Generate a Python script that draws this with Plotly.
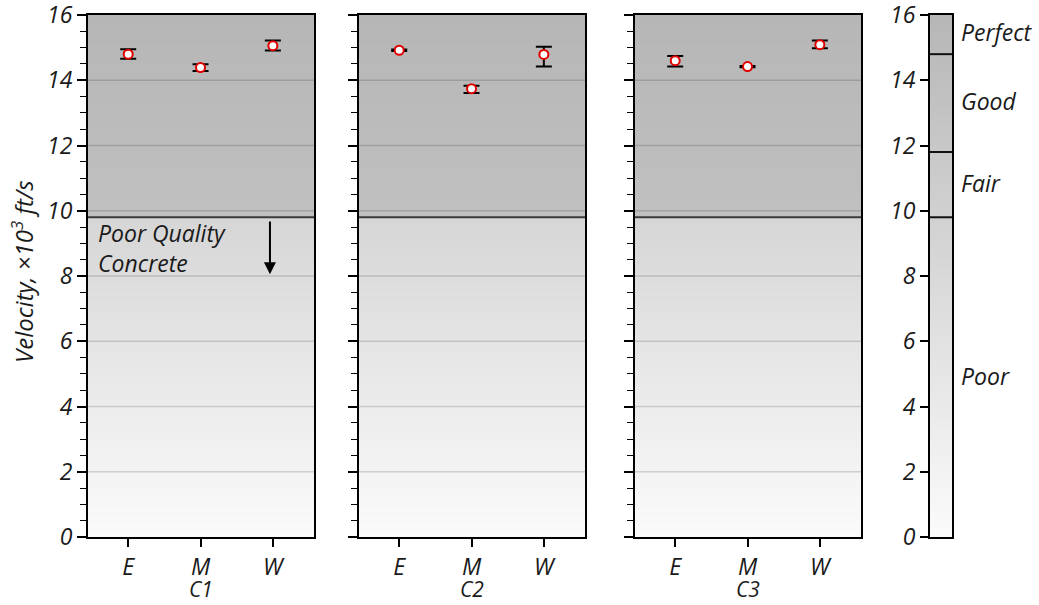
import plotly.graph_objects as go

# ---- data ----
categories = ["E", "M", "W"]
groups = ["C1", "C2", "C3"]
c1_mean = [14.80, 14.39, 15.06]
c1_plus = [0.15, 0.10, 0.16]
c1_minus = [0.14, 0.11, 0.15]
c2_mean = [14.92, 13.74, 14.79]
c2_plus = [0.02, 0.09, 0.24]
c2_minus = [0.02, 0.13, 0.37]
c3_mean = [14.60, 14.42, 15.09]
c3_plus = [0.14, 0.02, 0.13]
c3_minus = [0.18, 0.02, 0.11]

quality_bounds = [9.8, 11.8, 14.8]
quality_labels = ["Poor", "Fair", "Good", "Perfect"]
quality_label_y = [4.93, 10.85, 13.36, 15.48]
poor_limit = 9.8
y_ticks = [0, 2, 4, 6, 8, 10, 12, 14, 16]

FONT = "Open Sans"
FS = 23

means = [c1_mean, c2_mean, c3_mean]
pluses = [c1_plus, c2_plus, c3_plus]
minuses = [c1_minus, c2_minus, c3_minus]
xpos = list(range(len(categories)))

W, H = 1039, 605
panel_px = [(88, 314), (359, 585), (635, 861)]
legend_px = (930, 952)
ydom = [1 - 537 / H, 1 - 15 / H]
XR = [-0.556, 2.569]

fig = go.Figure()

# background gradients
edges = [i * 0.05 for i in range(321)]
centers = [(edges[i] + edges[i + 1]) / 2 for i in range(320)]


def panel_gray(y):
    if y < poor_limit:
        return 251 - 3.8 * y
    return 192 - 1.6 * (y - poor_limit)


def legend_gray(y):
    return 251 - 4.3 * y


gray_scale = [[0, "rgb(0,0,0)"], [1, "rgb(255,255,255)"]]

for i in range(3):
    xa = "x" if i == 0 else f"x{i+1}"
    ya = "y" if i == 0 else f"y{i+1}"
    fig.add_trace(go.Heatmap(
        x=[XR[0] - 0.5, XR[1] + 0.5], y=edges,
        z=[[panel_gray(c)] for c in centers],
        colorscale=gray_scale, zmin=0, zmax=255, showscale=False,
        hoverinfo="skip", xaxis=xa, yaxis=ya))

fig.add_trace(go.Heatmap(
    x=[0, 1], y=edges, z=[[legend_gray(c)] for c in centers],
    colorscale=gray_scale, zmin=0, zmax=255, showscale=False,
    hoverinfo="skip", xaxis="x4", yaxis="y4"))

# grid lines and poor-limit line as shapes above the heatmap
for i in range(3):
    xr = "x domain" if i == 0 else f"x{i+1} domain"
    yr = "y" if i == 0 else f"y{i+1}"
    for t in y_ticks[1:-1]:
        fig.add_shape(type="line", xref=xr, yref=yr, x0=0, x1=1, y0=t, y1=t,
                      line=dict(color="rgba(0,0,0,0.15)", width=1.5), layer="above")
    fig.add_shape(type="line", xref=xr, yref=yr, x0=0, x1=1, y0=poor_limit, y1=poor_limit,
                  line=dict(color="#3a3a3a", width=2), layer="above")

for b in quality_bounds:
    fig.add_shape(type="line", xref="x4 domain", yref="y4", x0=0, x1=1, y0=b, y1=b,
                  line=dict(color="#111", width=2), layer="above")

# data points
for i in range(3):
    xa = "x" if i == 0 else f"x{i+1}"
    ya = "y" if i == 0 else f"y{i+1}"
    fig.add_trace(go.Scatter(
        x=xpos, y=means[i], mode="markers",
        marker=dict(size=9, color="white", line=dict(color="#e00000", width=2)),
        error_y=dict(type="data", symmetric=False, array=pluses[i], arrayminus=minuses[i],
                     color="black", thickness=2, width=8),
        xaxis=xa, yaxis=ya, showlegend=False, hoverinfo="skip"))

tickfont = dict(family=FONT, size=FS, color="#1a1a1a", style="italic")

layout = dict(
    width=W, height=H, margin=dict(l=0, r=0, t=0, b=0, autoexpand=False),
    paper_bgcolor="white", plot_bgcolor="white", showlegend=False,
)

for i in range(3):
    x0, x1 = panel_px[i]
    suffix = "" if i == 0 else str(i + 1)
    layout["xaxis" + suffix] = dict(
        domain=[x0 / W, x1 / W], anchor="y" + suffix, automargin=False,
        range=XR, tickvals=xpos, ticktext=categories,
        showline=True, mirror=True, linecolor="black", linewidth=2,
        ticks="outside", ticklen=8, tickwidth=1.5, tickcolor="black",
        tickfont=tickfont, showgrid=False, zeroline=False,
        ticklabeloverflow="allow",
    )
    layout["yaxis" + suffix] = dict(
        domain=ydom, anchor="x" + suffix, range=[0, 16], automargin=False,
        tickvals=y_ticks, showticklabels=(i == 0), ticklabeloverflow="allow",
        showline=True, mirror=True, linecolor="black", linewidth=2,
        ticks="outside", ticklen=9, tickwidth=1.5, tickcolor="black",
        minor=dict(dtick=0.5, ticks="outside", ticklen=6, tickwidth=1.2, tickcolor="black"),
        tickfont=tickfont, showgrid=False, zeroline=False,
    )

layout["xaxis4"] = dict(domain=[legend_px[0] / W, legend_px[1] / W], anchor="y4",
                        automargin=False,
                        range=[0, 1], showticklabels=False, ticks="", showgrid=False,
                        zeroline=False, showline=True, mirror=True,
                        linecolor="black", linewidth=2)
layout["yaxis4"] = dict(domain=ydom, anchor="x4", range=[0, 16], tickvals=y_ticks,
                        automargin=False, ticklabeloverflow="allow",
                        showline=True, mirror=True, linecolor="black", linewidth=2,
                        ticks="outside", ticklen=8, tickwidth=1.5, tickcolor="black",
                        tickfont=tickfont, showgrid=False, zeroline=False)

fig.update_layout(**layout)

annfont = dict(family=FONT, size=FS, color="#1a1a1a", style="italic")

# group labels under each panel
for i, g in enumerate(groups):
    x0, x1 = panel_px[i]
    fig.add_annotation(x=(x0 + x1) / 2 / W, xref="paper", y=1 - 589 / H, yref="paper",
                       text=g, showarrow=False, xanchor="center", yanchor="middle",
                       font=dict(family=FONT, size=21, color="#1a1a1a", style="italic"))

for lab, yy in zip(quality_labels, quality_label_y):
    fig.add_annotation(x=959 / W, xref="paper", y=yy, yref="y4", text=lab,
                       showarrow=False, xanchor="left", yanchor="middle", font=annfont)

fig.add_annotation(x=96 / W, xref="paper", y=8.85, yref="y",
                   text="Poor Quality<br>Concrete", showarrow=False,
                   xanchor="left", yanchor="middle", align="left", font=annfont)

fig.add_annotation(x=1.96, y=8.05, xref="x", yref="y", ax=1.96, ay=9.72,
                   axref="x", ayref="y", text="", showarrow=True,
                   arrowhead=2, arrowsize=1.2, arrowwidth=2, arrowcolor="black")

fig.add_annotation(x=22 / W, xref="paper", y=1 - 272 / H, yref="paper",
                   text="Velocity, ×10<sup>3</sup> ft/s", textangle=-90,
                   showarrow=False, xanchor="center", yanchor="middle",
                   font=dict(family=FONT, size=24, color="#1a1a1a", style="italic"))

fig.write_html("out.html", config={"displayModeBar": False},
               post_script="document.body.style.margin='0';document.body.style.overflow='hidden';")
